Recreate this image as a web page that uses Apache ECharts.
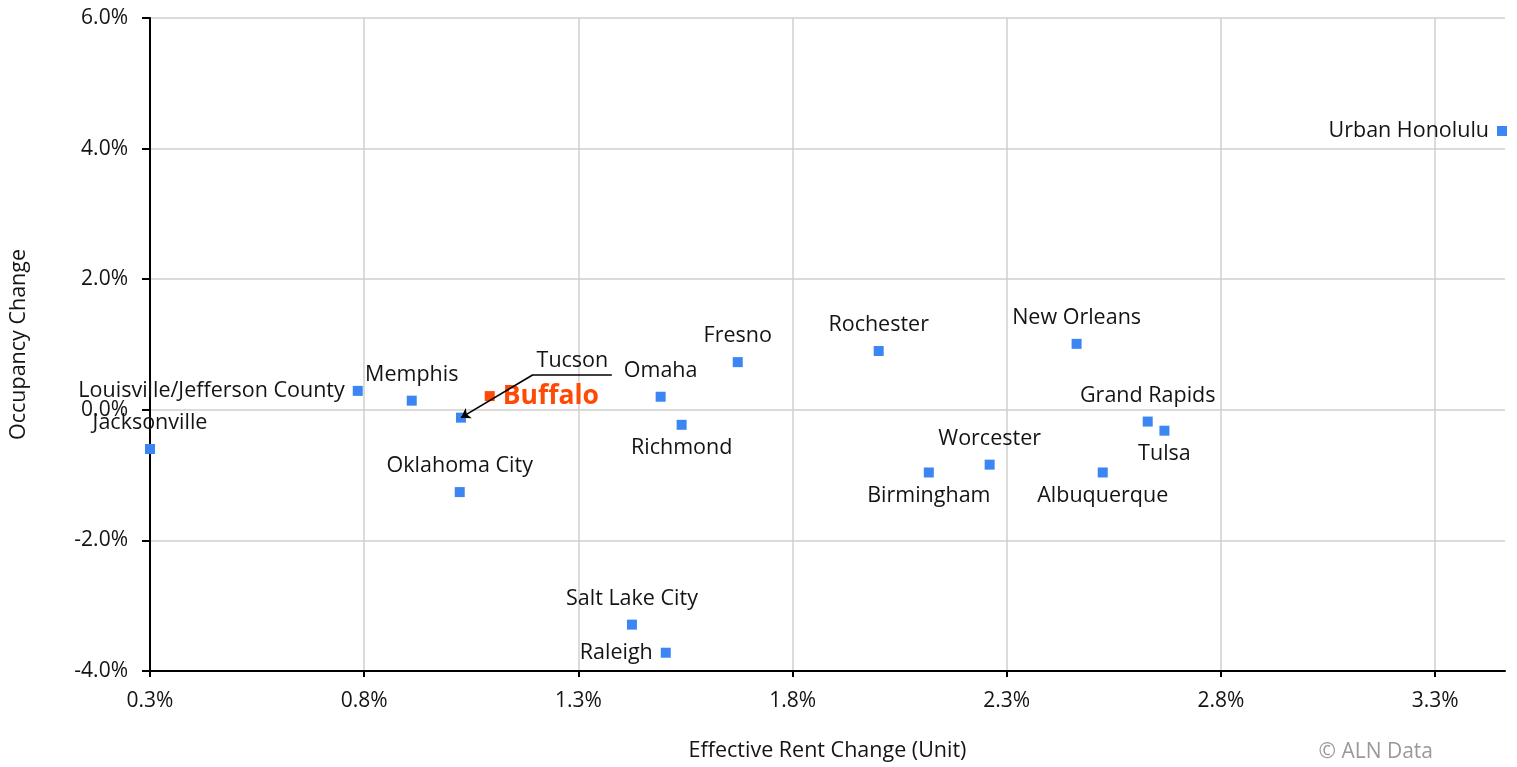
<!DOCTYPE html>
<html>
<head>
<meta charset="utf-8">
<script src="https://cdn.jsdelivr.net/npm/echarts@6/dist/echarts.min.js"></script>
<style>
  html, body { margin: 0; padding: 0; background: #fff; }
  #chart { width: 1517px; height: 767px; }
</style>
</head>
<body>
<div id="chart"></div>
<script>
// data (percent)
var cities = ['Urban Honolulu', 'Jacksonville', 'Louisville/Jefferson County', 'Memphis', 'Tucson',
  'Buffalo', 'Oklahoma City', 'Omaha', 'Richmond', 'Fresno', 'Salt Lake City', 'Raleigh',
  'Rochester', 'Birmingham', 'Worcester', 'New Orleans', 'Grand Rapids', 'Tulsa', 'Albuquerque'];
var rentChange = [3.456, 0.30, 0.785, 0.911, 1.026, 1.093, 1.023, 1.492, 1.541, 1.672, 1.425, 1.504,
  2.001, 2.118, 2.260, 2.463, 2.629, 2.668, 2.524];
var occChange = [4.27, -0.60, 0.29, 0.14, -0.12, 0.21, -1.26, 0.20, -0.23, 0.73, -3.29, -3.72,
  0.90, -0.96, -0.84, 1.01, -0.18, -0.32, -0.96];
var xTicks = { min: 0.3, max: 3.463, step: 0.5 };
var yTicks = { min: -4, max: 6, step: 2 };
var highlight = 'Buffalo';
var annotated = 'Tucson';

// where each label sits next to its marker
var labelSide = {
  'Urban Honolulu': 'left', 'Jacksonville': 'top', 'Louisville/Jefferson County': 'left',
  'Memphis': 'top', 'Buffalo': 'right', 'Oklahoma City': 'top', 'Omaha': 'top',
  'Richmond': 'bottom', 'Fresno': 'top', 'Salt Lake City': 'top', 'Raleigh': 'left',
  'Rochester': 'top', 'Birmingham': 'bottom', 'Worcester': 'top', 'New Orleans': 'top',
  'Grand Rapids': 'top', 'Tulsa': 'bottom', 'Albuquerque': 'bottom'
};
var sideGap = { top: 10, bottom: 7, left: 8, right: 8 };

var FONT = '"Open Sans", "DejaVu Sans", sans-serif';
var FS = 21.5;
var INK = '#141414';
var BLUE = '#3b86f2';
var ORANGE = '#ff4a06';

var points = [];
var tucsonIdx = cities.indexOf(annotated);
for (var i = 0; i < cities.length; i++) {
  var name = cities[i];
  var item = { name: name, value: [rentChange[i], occChange[i]] };
  if (name === highlight) {
    item.itemStyle = { color: ORANGE };
    item.label = {
      show: true, position: 'right', distance: 8, formatter: '{b}',
      color: ORANGE, fontSize: 26.5, fontWeight: 'bold', fontFamily: FONT
    };
  } else if (name === annotated) {
    item.label = { show: false };
  } else {
    var side = labelSide[name];
    item.label = { show: true, position: side, distance: sideGap[side], formatter: '{b}' };
  }
  points.push(item);
}

// leader line for Tucson (elbow and end in data units)
var elbow = [1.194, 0.536];
var shelfEnd = [1.378, 0.536];

var myChart = echarts.init(document.getElementById('chart'));
var option = {
  animation: false,
  backgroundColor: '#fff',
  textStyle: { fontFamily: FONT },
  grid: { left: 150, right: 12, top: 18, bottom: 96 },
  xAxis: {
    type: 'value',
    min: xTicks.min, max: xTicks.max, interval: xTicks.step,
    name: 'Effective Rent Change (Unit)',
    nameLocation: 'middle', nameGap: 69,
    nameTextStyle: { color: INK, fontSize: FS, fontFamily: FONT },
    axisLine: { show: true, onZero: false, lineStyle: { color: '#000', width: 2 } },
    axisTick: { show: true, length: 6, lineStyle: { color: '#000', width: 2 } },
    axisLabel: {
      color: INK, fontSize: 21, fontFamily: FONT, margin: 20, showMaxLabel: false,
      formatter: function(v) { return v.toFixed(1) + '%'; }
    },
    splitLine: { show: true, showMaxLine: false, lineStyle: { color: '#cfcfcf', width: 1.5 } }
  },
  yAxis: {
    type: 'value',
    min: yTicks.min, max: yTicks.max, interval: yTicks.step,
    name: 'Occupancy Change',
    nameLocation: 'middle', nameGap: 120,
    nameTextStyle: { color: INK, fontSize: FS, fontFamily: FONT },
    axisLine: { show: true, onZero: false, lineStyle: { color: '#000', width: 2 } },
    axisTick: { show: true, length: 8, lineStyle: { color: '#000', width: 2 } },
    axisLabel: {
      color: INK, fontSize: 21, fontFamily: FONT, margin: 22,
      formatter: function(v) { return v.toFixed(1) + '%'; }
    },
    splitLine: { show: true, lineStyle: { color: '#cfcfcf', width: 1.5 } }
  },
  graphic: [{
    type: 'text', right: 84, bottom: 4,
    style: { text: '© ALN Data', fill: '#999', fontSize: 21, fontFamily: FONT }
  }],
  series: [{
    type: 'scatter',
    symbol: 'rect',
    symbolSize: 10,
    itemStyle: { color: BLUE, opacity: 1 },
    label: { color: INK, fontSize: FS, fontFamily: FONT },
    data: points,
    markLine: {
      silent: true,
      animation: false,
      symbolSize: 9,
      lineStyle: { color: '#000', width: 1.6, type: 'solid' },
      data: [
        [
          { coord: elbow, symbol: 'none' },
          {
            coord: shelfEnd, symbol: 'none',
            label: {
              show: true, position: 'insideMiddleTop', formatter: annotated,
              color: INK, fontSize: FS, fontFamily: FONT, distance: 3
            }
          }
        ],
        [
          { coord: elbow, symbol: 'none', label: { show: false } },
          { coord: [rentChange[tucsonIdx], occChange[tucsonIdx]], symbol: 'arrow', label: { show: false } }
        ]
      ]
    }
  }]
};
myChart.setOption(option);
window.addEventListener('resize', function() {
  myChart.resize();
});
</script>
</body>
</html>
